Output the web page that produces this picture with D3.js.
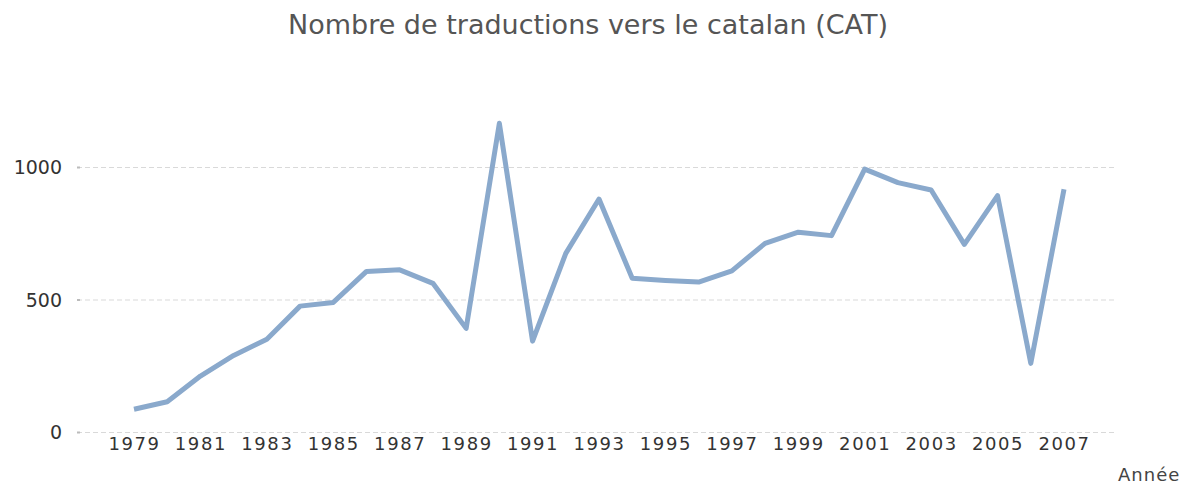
<!DOCTYPE html>
<html>
<head>
<meta charset="utf-8">
<script src="https://cdn.jsdelivr.net/npm/d3@7"></script>
<style>
  body { margin: 0; background: #fff; }
  text { font-family: "DejaVu Sans", sans-serif; }
</style>
</head>
<body>
<div id="chart"></div>
<script>
// data
var years = [1979, 1980, 1981, 1982, 1983, 1984, 1985, 1986, 1987, 1988,
  1989, 1990, 1991, 1992, 1993, 1994, 1995, 1996, 1997, 1998,
  1999, 2000, 2001, 2002, 2003, 2004, 2005, 2006, 2007];
var translations = [86, 114, 211, 289, 350, 475, 489, 606, 612, 561,
  391, 1165, 343, 674, 879, 580, 572, 566, 608, 712,
  754, 741, 992, 941, 913, 708, 892, 259, 916];
var yTicks = [0, 500, 1000];
var xTicks = [1979, 1981, 1983, 1985, 1987, 1989, 1991, 1993, 1995, 1997, 1999, 2001, 2003, 2005, 2007];

var svgWidth = 1197, svgHeight = 486;

var svg = d3.select("#chart")
  .append("svg")
  .attr("width", svgWidth)
  .attr("height", svgHeight);

var x = d3.scaleLinear()
  .domain([1979, 2007])
  .range([134, 1064]);
var y = d3.scaleLinear()
  .domain([0, 1000])
  .range([432, 167]);

// title
svg.append("text")
  .attr("x", 588)
  .attr("y", 34)
  .attr("text-anchor", "middle")
  .attr("font-size", 27)
  .attr("fill", "#555")
  .text("Nombre de traductions vers le catalan (CAT)");

// grid lines + y labels
var yAxis = d3.axisLeft(y)
  .tickValues(yTicks)
  .tickSize(-(1117 - 77))
  .tickPadding(15)
  .tickFormat(d3.format("d"));
var gy = svg.append("g")
  .attr("transform", "translate(77,0)")
  .call(yAxis);
gy.select(".domain").remove();
gy.selectAll(".tick line")
  .attr("stroke", "#d9d9d9")
  .attr("stroke-dasharray", "5,3");
gy.selectAll(".tick")
  .append("rect")
  .attr("x", 0).attr("y", -1)
  .attr("width", 3).attr("height", 2)
  .attr("fill", "#bbb");
gy.selectAll(".tick text")
  .attr("font-size", 19)
  .attr("font-family", "DejaVu Sans")
  .attr("fill", "#333")
  .attr("dy", "0.35em");

// x labels
var xAxis = d3.axisBottom(x)
  .tickValues(xTicks)
  .tickSize(0)
  .tickPadding(0)
  .tickFormat(d3.format("d"));
var gx = svg.append("g")
  .attr("transform", "translate(0,436)")
  .call(xAxis);
gx.select(".domain").remove();
gx.selectAll(".tick text")
  .attr("font-size", 18)
  .attr("font-family", "DejaVu Sans")
  .attr("letter-spacing", "1.6px")
  .attr("fill", "#333")
  .attr("dy", "0.75em");

// axis title
svg.append("text")
  .attr("x", 1118)
  .attr("y", 481)
  .attr("font-size", 18)
  .attr("letter-spacing", "1px")
  .attr("fill", "#444")
  .text("Année");

// the line
var line = d3.line()
  .x(function(d, i) { return x(years[i]); })
  .y(function(d) { return y(d); });

svg.append("path")
  .datum(translations)
  .attr("fill", "none")
  .attr("stroke", "#8aa9cc")
  .attr("stroke-width", 5)
  .attr("stroke-linejoin", "round")
  .attr("d", line);
</script>
</body>
</html>
